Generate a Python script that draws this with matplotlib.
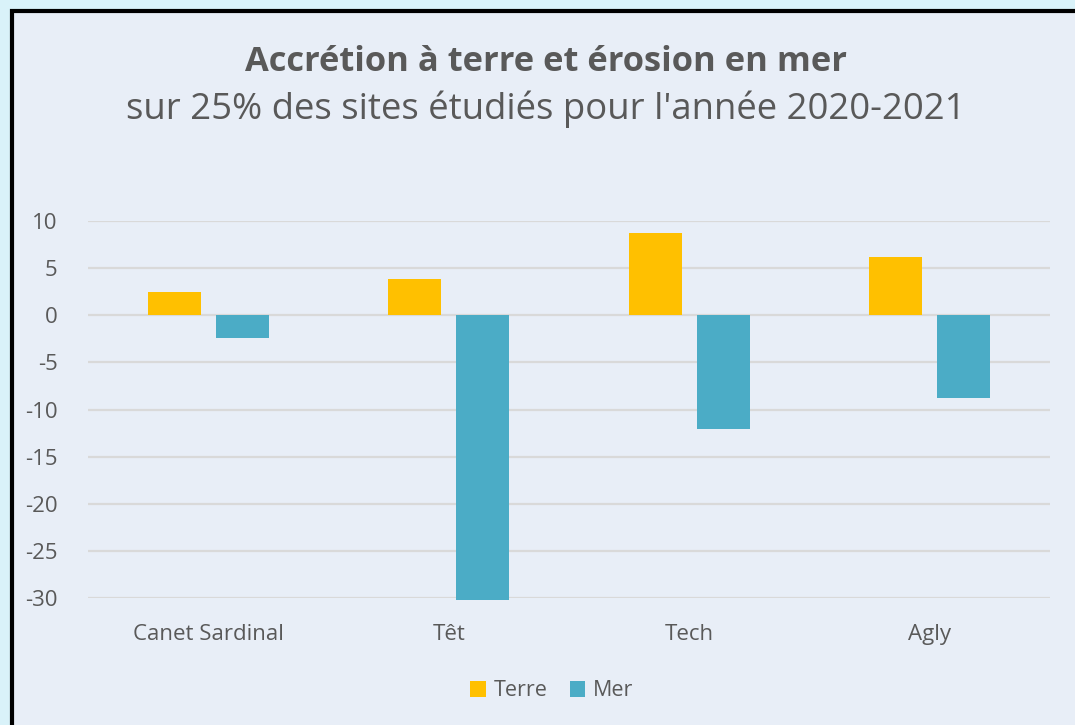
import numpy as np
import matplotlib.pyplot as plt
from matplotlib.patches import Rectangle

# Data
sites = ['Canet Sardinal', 'Têt', 'Tech', 'Agly']
terre = [2.5, 3.8, 8.7, 6.2]
mer = [-2.4, -30.2, -12.1, -8.8]
yticks = [10, 5, 0, -5, -10, -15, -20, -25, -30]

c_terre = '#ffc000'
c_mer = '#4bacc6'
c_text = '#595959'

plt.rcParams['font.family'] = ['Open Sans', 'DejaVu Sans']

W, H = 1075, 725
fig = plt.figure(figsize=(W / 100, H / 100), dpi=100)
fig.patch.set_facecolor('#d9f2f9')

# inner panel with black border (left/top only visible)
panel = Rectangle((11.5 / W, -0.2), 1.2, 1.2 - 11 / H, transform=fig.transFigure,
                  facecolor='#e8eef7', edgecolor='black', linewidth=3, zorder=-5)
fig.patches.append(panel)

ax = fig.add_axes([88 / W, 1 - 598 / H, (1050 - 88) / W, (598 - 221) / H])
ax.set_facecolor('none')
ax.set_zorder(2)

x = np.arange(len(sites))
w = 0.22
off = 0.142
ax.bar(x - off, terre, w, color=c_terre, zorder=3, label='Terre', clip_on=False)
ax.bar(x + off, mer, w, color=c_mer, zorder=3, label='Mer', clip_on=False)

ax.set_xlim(-0.5, len(sites) - 0.5)
ax.set_ylim(-30, 10)
ax.set_yticks(yticks)
ax.set_yticklabels([str(v) for v in yticks])
ax.set_xticks(x)
ax.set_xticklabels(sites)
ax.tick_params(length=0, labelsize=16, colors=c_text)
ax.tick_params(axis='x', pad=19)
ax.tick_params(axis='y', pad=22)
for lbl in ax.get_yticklabels():
    lbl.set_horizontalalignment('right')
ax.grid(axis='y', color='#d9d9d9', linewidth=1.6, zorder=0)
for s in ax.spines.values():
    s.set_visible(False)

fig.text(546 / W, 1 - 62 / H, 'Accrétion à terre et érosion en mer',
         ha='center', va='center', fontsize=24.8, fontweight='bold', color=c_text)
fig.text(546 / W, 1 - 109 / H, "sur 25% des sites étudiés pour l'année 2020-2021",
         ha='center', va='center', fontsize=26.3, color=c_text)

leg = fig.legend(loc='center', bbox_to_anchor=(552 / W, 1 - 691 / H), ncol=2,
                 frameon=False, fontsize=15.5, handlelength=0.7, handleheight=0.7,
                 handletextpad=0.4, columnspacing=1.0, labelcolor=c_text)

fig.savefig('out.png', dpi=100, facecolor=fig.get_facecolor())
